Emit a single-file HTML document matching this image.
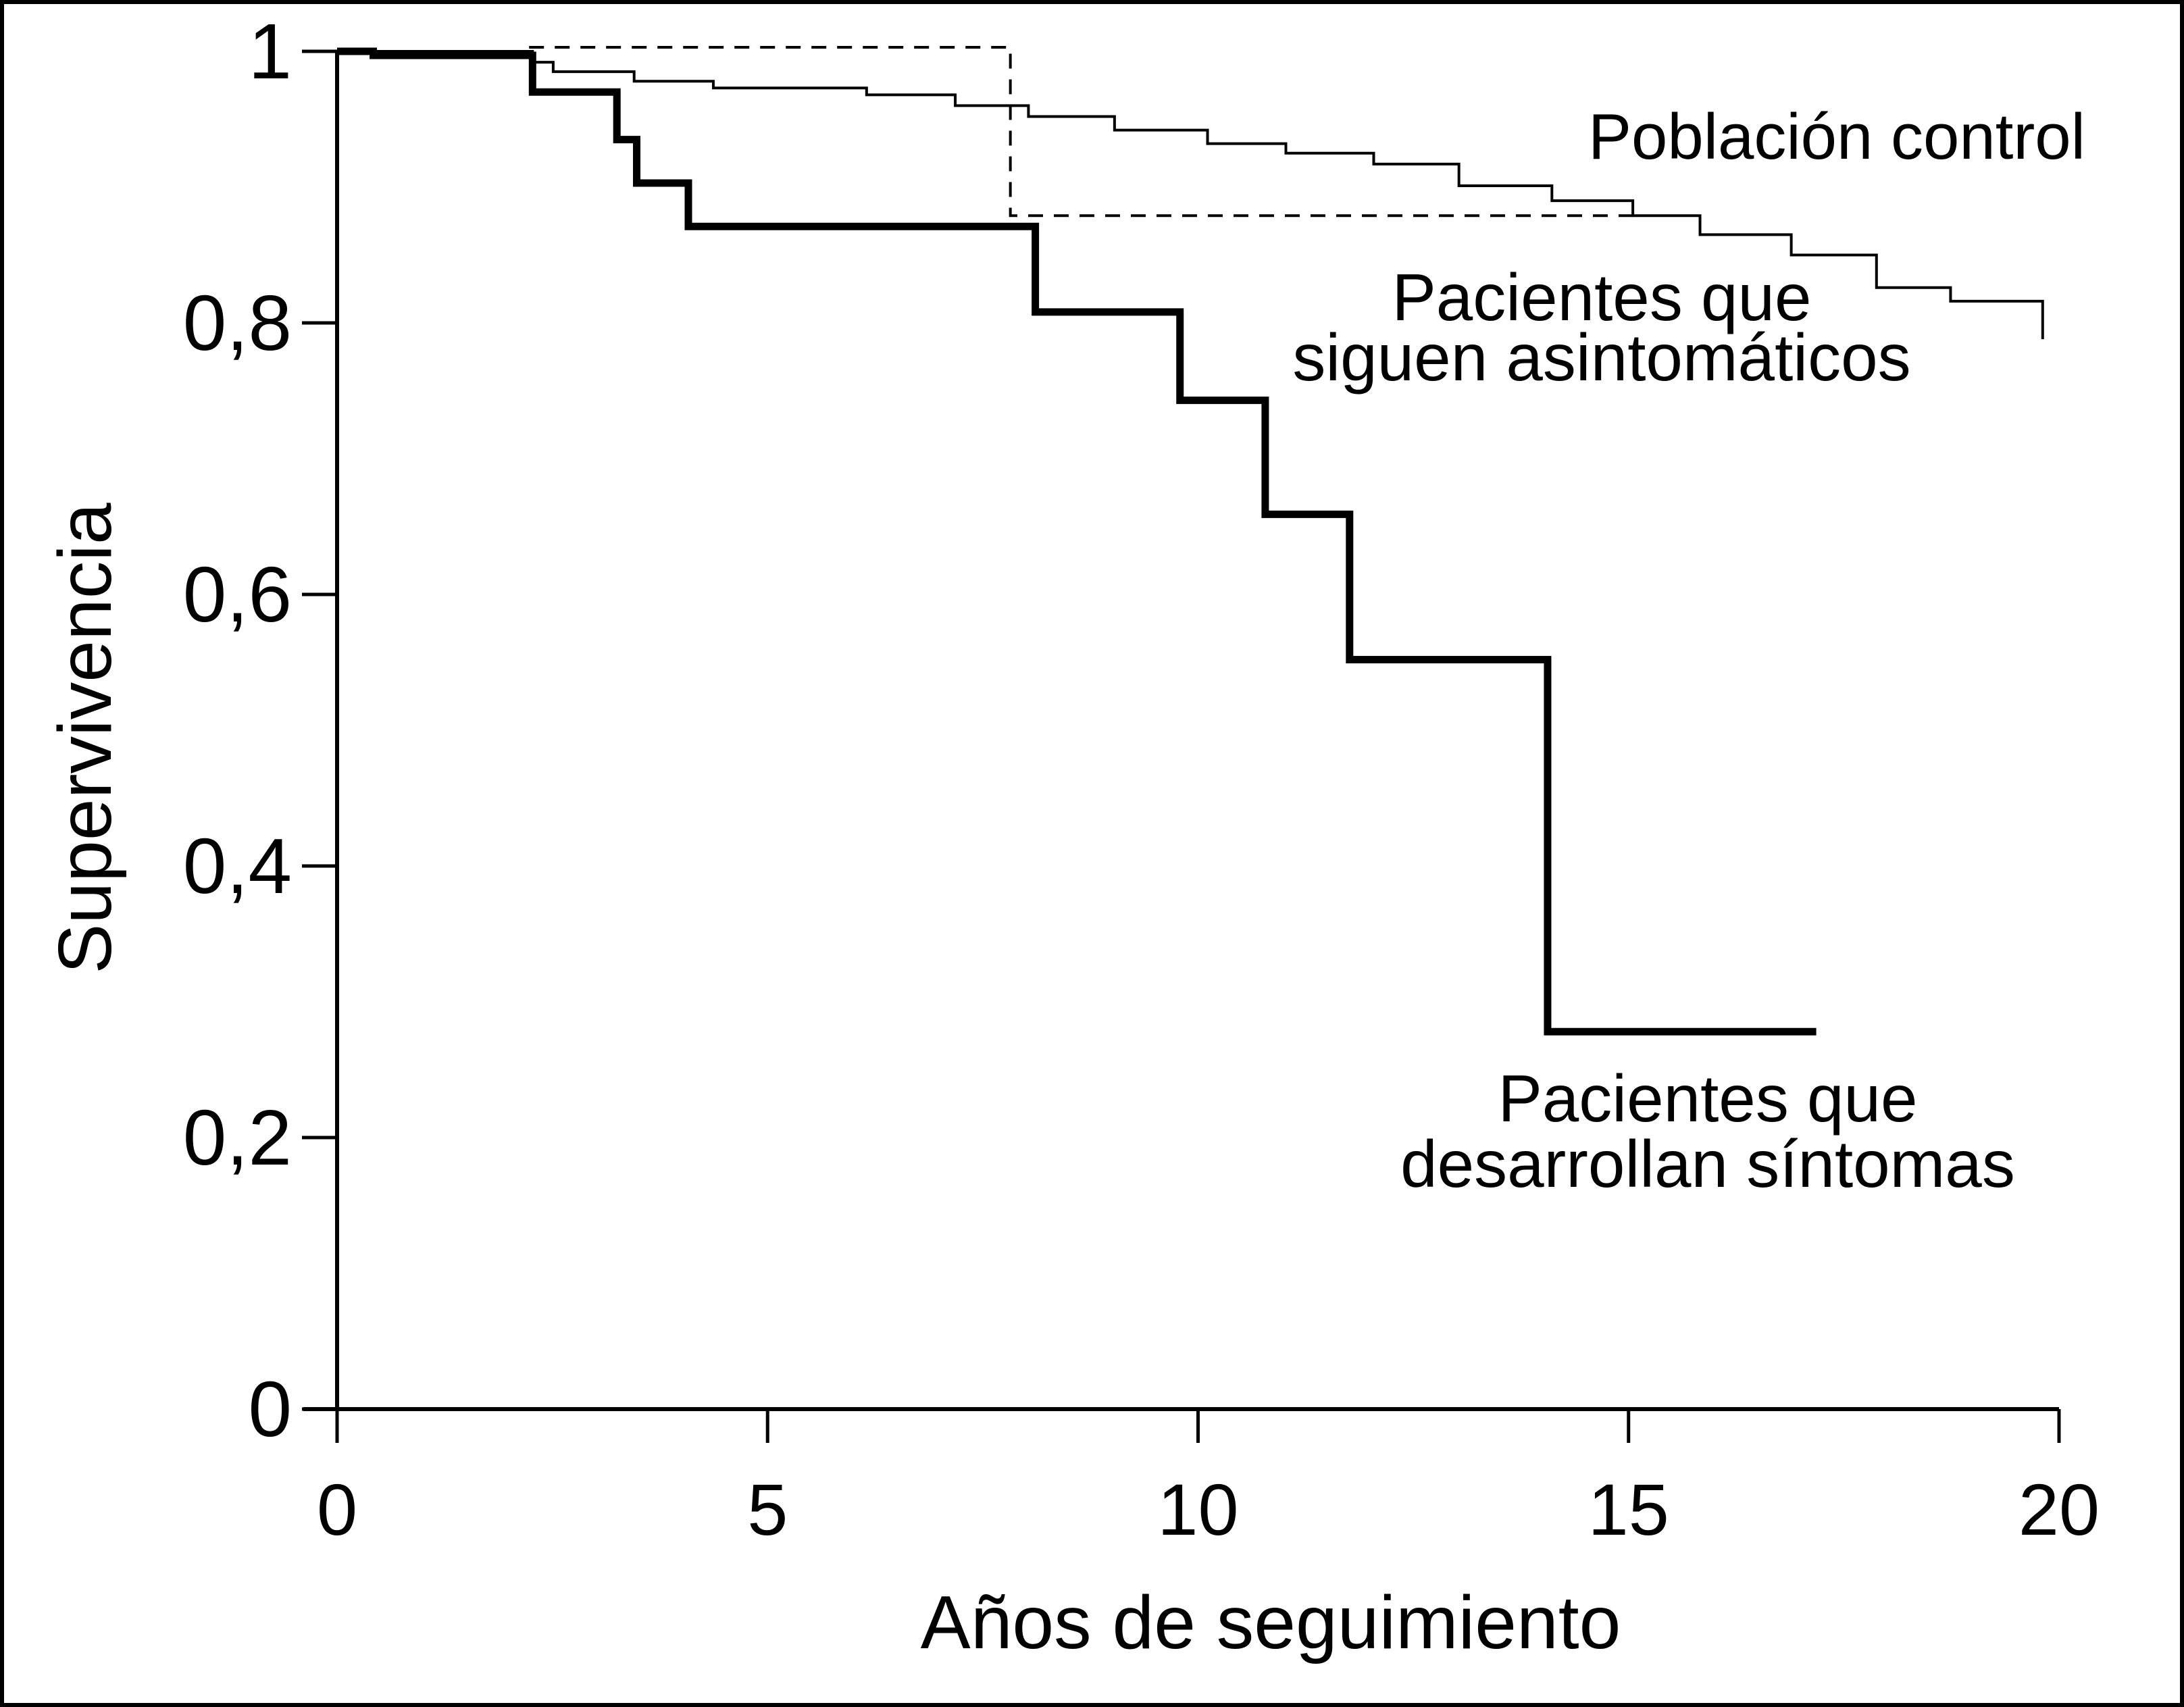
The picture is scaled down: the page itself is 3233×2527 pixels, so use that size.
<!DOCTYPE html>
<html><head><meta charset="utf-8"><style>
html,body{margin:0;padding:0;background:#fff;}
svg{display:block;}
text{font-family:"Liberation Sans",Arial,sans-serif;fill:#000;}
</style></head><body>
<svg id="chart" width="3233" height="2527" viewBox="0 0 3233 2527" xmlns="http://www.w3.org/2000/svg">
<rect x="3" y="3" width="3227" height="2521" fill="#fff" stroke="#000" stroke-width="6"/>
<g id="axes"></g>
<g id="marks"></g>
<text x="2351" y="235" font-size="96" textLength="736">Población control</text>
<text x="2371" y="474" font-size="98" text-anchor="middle">Pacientes que</text>
<text x="2371" y="563" font-size="98" text-anchor="middle">siguen asintomáticos</text>
<text x="2528" y="1660" font-size="98" text-anchor="middle">Pacientes que</text>
<text x="2528" y="1757" font-size="98" text-anchor="middle">desarrollan síntomas</text>
<text x="1881" y="2440" font-size="111" text-anchor="middle">Años de seguimiento</text>
<text transform="translate(164,1093) rotate(-90)" font-size="111" text-anchor="middle">Supervivencia</text>
</svg>
<script>
const xTicks = [0, 5, 10, 15, 20];
const xTickLabels = ["0", "5", "10", "15", "20"];
const yTicks = [0, 0.2, 0.4, 0.6, 0.8, 1];
const yTickLabels = ["0", "0,2", "0,4", "0,6", "0,8", "1"];
const controlTimes = [0, 2.27, 2.51, 3.45, 4.37, 6.15, 7.18, 8.03, 9.03, 10.11, 11.02, 12.04, 13.03, 14.11, 15.05, 15.83, 16.89, 17.88, 18.74, 19.81];
const controlSurv = [1, 0.992, 0.985, 0.978, 0.973, 0.968, 0.960, 0.952, 0.942, 0.932, 0.925, 0.917, 0.901, 0.890, 0.879, 0.865, 0.850, 0.826, 0.816, 0.788];
const symptTimes = [0, 0.42, 2.27, 3.25, 3.48, 4.08, 8.11, 9.79, 10.78, 11.76, 14.06, 17.18];
const symptSurv = [1, 0.997, 0.970, 0.935, 0.903, 0.871, 0.808, 0.743, 0.659, 0.552, 0.278, 0.278];
const boxX = [2.23, 7.82, 15.05];
const boxY = [1.003, 0.879];

const X0 = 499, X1 = 3048, Y0 = 2086, Y1 = 76;
const sx = v => X0 + (v - 0) / 20 * (X1 - X0);
const sy = v => Y0 - v * (Y0 - Y1);
const NS = "http://www.w3.org/2000/svg";
function mk(tag, attrs, parent) {
  const e = document.createElementNS(NS, tag);
  for (const k in attrs) e.setAttribute(k, attrs[k]);
  parent.appendChild(e);
  return e;
}
const axes = document.getElementById('axes');
const marks = document.getElementById('marks');

let a = mk('line', {x1: sx(0), y1: sy(1), x2: sx(0), y2: sy(0), stroke: '#000', 'stroke-width': 6}, axes);


a = mk('line', {x1: sx(0) - 50, y1: sy(0), x2: sx(20), y2: sy(0), stroke: '#000', 'stroke-width': 6}, axes);



xTicks.forEach((t, i) => {
  const l = mk('line', {x1: sx(t), y1: sy(0), x2: sx(t), y2: sy(0) + 50, stroke: '#000', 'stroke-width': 5}, axes);
  
  
  const tx = mk('text', {x: sx(t), y: 2272, 'font-size': 108, 'text-anchor': 'middle'}, axes);
  tx.textContent = xTickLabels[i];
  
  
});
yTicks.forEach((t, i) => {
  const l = mk('line', {x1: sx(0) - 52, y1: sy(t), x2: sx(0), y2: sy(t), stroke: '#000', 'stroke-width': 5}, axes);
  
  
  const tx = mk('text', {x: 432, y: sy(t) + 40, 'font-size': 116, 'text-anchor': 'end'}, axes);
  tx.textContent = yTickLabels[i];
  
  
});

function stepPath(times, surv) {
  let d = 'M' + sx(times[0]) + ' ' + sy(surv[0]);
  for (let i = 1; i < times.length; i++) {
    d += ' H' + sx(times[i]) + ' V' + sy(surv[i]);
  }
  return d;
}
let p = mk('path', {d: stepPath(controlTimes, controlSurv), fill: 'none', stroke: '#000', 'stroke-width': 4}, marks);



p = mk('path', {d: stepPath(symptTimes, symptSurv), fill: 'none', stroke: '#000', 'stroke-width': 11}, marks);



p = mk('path', {d: 'M' + sx(boxX[0]) + ' ' + sy(boxY[0]) + ' H' + sx(boxX[1]) + ' V' + sy(boxY[1]) + ' H' + sx(boxX[2]), fill: 'none', stroke: '#000', 'stroke-width': 4, 'stroke-dasharray': '22 16'}, marks);


</script>
</body></html>
